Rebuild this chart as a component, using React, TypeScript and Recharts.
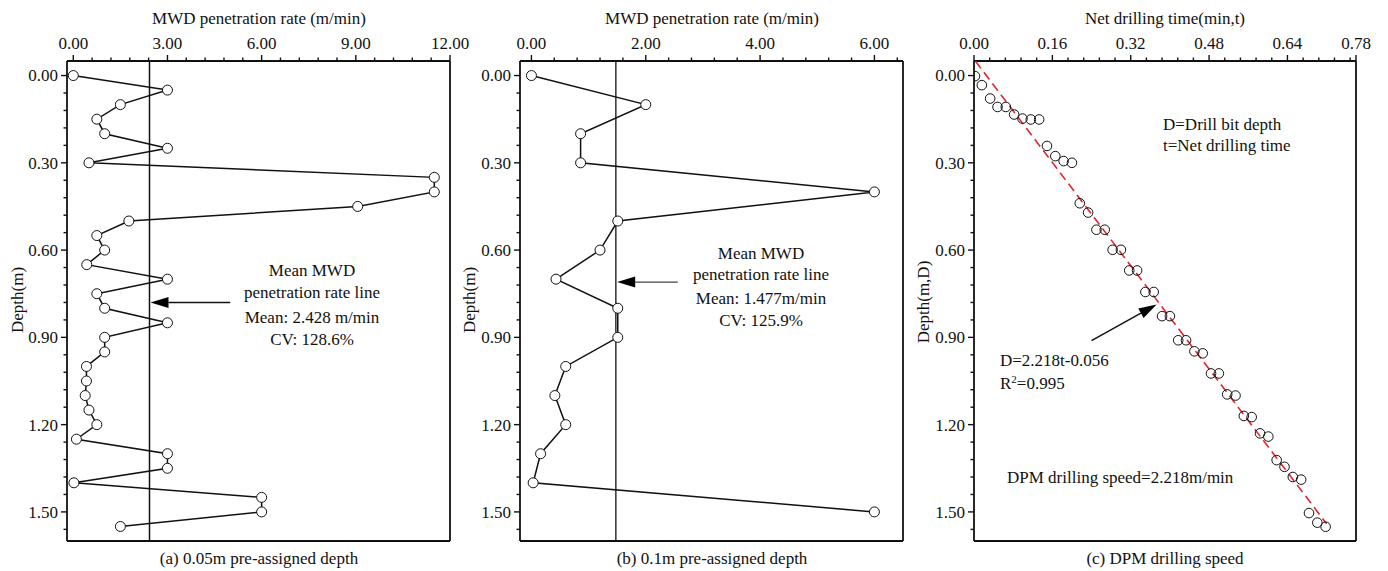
import React from 'react';
import { ScatterChart, Scatter, XAxis, YAxis, ReferenceLine } from 'recharts';

const FONT = '"Liberation Serif", "Times New Roman", serif';
const INK = '#111';
const FIT_RED = '#e3262b';

// (a) 0.05 m pre-assigned depth
const depthA = [
  0.0, 0.05, 0.1, 0.15, 0.2, 0.25, 0.3, 0.35, 0.4, 0.45, 0.5, 0.55, 0.6, 0.65, 0.7, 0.75,
  0.8, 0.85, 0.9, 0.95, 1.0, 1.05, 1.1, 1.15, 1.2, 1.25, 1.3, 1.35, 1.4, 1.45, 1.5, 1.55,
];
const rateA = [
  0, 3.0, 1.5, 0.75, 1.0, 3.0, 0.5, 11.5, 11.5, 9.06, 1.77, 0.75, 1.0, 0.43, 3.0, 0.75,
  1.0, 3.0, 1.0, 1.0, 0.42, 0.42, 0.38, 0.5, 0.75, 0.1, 3.0, 3.0, 0.02, 6.0, 6.0, 1.5,
];
const meanA = 2.428;

// (b) 0.1 m pre-assigned depth
const depthB = [0.0, 0.1, 0.2, 0.3, 0.4, 0.5, 0.6, 0.7, 0.8, 0.9, 1.0, 1.1, 1.2, 1.3, 1.4, 1.5];
const rateB = [0, 2.0, 0.86, 0.86, 6.0, 1.51, 1.2, 0.43, 1.51, 1.51, 0.6, 0.41, 0.6, 0.16, 0.03, 6.0];
const meanB = 1.477;

// (c) DPM drilling speed
const timeC = [
  0.002, 0.016, 0.033, 0.048, 0.065, 0.082, 0.099, 0.116, 0.133, 0.149, 0.166, 0.183, 0.2, 0.216, 0.233,
  0.25, 0.267, 0.283, 0.3, 0.317, 0.333, 0.35, 0.367, 0.384, 0.4, 0.417, 0.433, 0.45, 0.467, 0.484,
  0.5, 0.517, 0.534, 0.551, 0.567, 0.584, 0.601, 0.618, 0.634, 0.651, 0.668, 0.684, 0.701, 0.718,
];
const depthC = [
  0.002, 0.033, 0.079, 0.108, 0.108, 0.134, 0.148, 0.151, 0.151, 0.242, 0.277, 0.294, 0.3, 0.439, 0.471,
  0.53, 0.53, 0.599, 0.599, 0.67, 0.67, 0.744, 0.744, 0.827, 0.827, 0.91, 0.91, 0.948, 0.955, 1.024,
  1.024, 1.096, 1.1, 1.17, 1.174, 1.23, 1.241, 1.322, 1.345, 1.38, 1.389, 1.504, 1.537, 1.551,
];
const fitSlope = 2.218;
const fitIntercept = -0.056;
const fitRange = [0.003, 0.72];

// ticks
const depthTicks = [0, 0.3, 0.6, 0.9, 1.2, 1.5];
const depthDomain: [number, number] = [-0.05, 1.6];
const rateTicksA = [0, 3, 6, 9, 12];
const rateTicksB = [0, 2, 4, 6];
const timeTicksC = [0, 0.16, 0.32, 0.48, 0.64, 0.78];

const steps = (step: number, max: number) => {
  const out: number[] = [];
  for (let i = 0; i * step <= max + 1e-9; i++) out.push(+(i * step).toFixed(4));
  return out;
};
const merge = (a: number[], b: number[]) =>
  Array.from(new Set([...a, ...b].map((v) => +v.toFixed(4)))).sort((p, q) => p - q);

const isMajor = (v: number, majors: number[]) => majors.some((m) => Math.abs(m - v) < 1e-6);

const TopTick = (props: any) => {
  const { x, y, payload, majors } = props;
  const major = isMajor(payload.value, majors);
  return (
    <g>
      <line x1={x} y1={y} x2={x} y2={y - (major ? 6 : 3.5)} stroke={INK} strokeWidth={1.4} />
      {major && (
        <text x={x} y={y - 12.5} textAnchor="middle" fontFamily={FONT} fontSize={17} fill={INK}>
          {payload.value.toFixed(2)}
        </text>
      )}
    </g>
  );
};

const LeftTick = (props: any) => {
  const { x, y, payload, majors } = props;
  const major = isMajor(payload.value, majors);
  return (
    <g>
      <line x1={x} y1={y} x2={x - (major ? 6 : 3.5)} y2={y} stroke={INK} strokeWidth={1.4} />
      {major && (
        <text x={x - 9} y={y} dy="0.35em" textAnchor="end" fontFamily={FONT} fontSize={17} fill={INK}>
          {payload.value.toFixed(2)}
        </text>
      )}
    </g>
  );
};

const arrowShape = (color: string, width: number) => (p: any) => {
  const { x1, y1, x2, y2 } = p;
  const a = Math.atan2(y2 - y1, x2 - x1);
  const L = 18;
  const H = 5.5;
  const bx = x2 - L * Math.cos(a);
  const by = y2 - L * Math.sin(a);
  const px = -Math.sin(a) * H;
  const py = Math.cos(a) * H;
  return (
    <g>
      <line x1={x1} y1={y1} x2={bx} y2={by} stroke={color} strokeWidth={width} />
      <polygon points={`${x2},${y2} ${bx + px},${by + py} ${bx - px},${by - py}`} fill="#000" />
    </g>
  );
};

const openDot = (r: number, fill: string) => (p: any) => (
  <circle cx={p.cx} cy={p.cy} r={r} fill={fill} stroke={INK} strokeWidth={1} />
);
const noDot = () => <g />;

const PLOT_TOP = 61;
const PLOT_H = 480;
const Y_W = 60;
const X_H = 30;
const PAD_R = 30;

type PanelProps = {
  plotLeft: number;
  plotWidth: number;
  xDomain: [number, number];
  xTicks: number[];
  xMajors: number[];
  children: React.ReactNode;
};

const Panel = ({ plotLeft, plotWidth, xDomain, xTicks, xMajors, children }: PanelProps) => {
  const frame = { stroke: INK, strokeWidth: 1.8 };
  return (
    <div style={{ position: 'absolute', left: plotLeft - Y_W, top: 0 }}>
      <ScatterChart
        width={Y_W + plotWidth + PAD_R}
        height={PLOT_TOP + PLOT_H + 4}
        margin={{ top: PLOT_TOP - X_H, left: 0, right: PAD_R, bottom: 4 }}
      >
        <XAxis
          type="number"
          dataKey="x"
          orientation="top"
          height={X_H}
          domain={xDomain}
          allowDataOverflow
          ticks={xTicks}
          interval={0}
          tickSize={0}
          tickMargin={0}
          tick={<TopTick majors={xMajors} />}
          axisLine={frame}
        />
        <YAxis
          type="number"
          dataKey="y"
          reversed
          width={Y_W}
          domain={depthDomain}
          allowDataOverflow
          ticks={merge(depthTicks, steps(0.06, 1.56))}
          interval={0}
          tickSize={0}
          tickMargin={0}
          tick={<LeftTick majors={depthTicks} />}
          axisLine={frame}
        />
        {/* right and bottom frame */}
        <ReferenceLine x={xDomain[1]} stroke={INK} strokeWidth={1.8} />
        <ReferenceLine y={depthDomain[1]} stroke={INK} strokeWidth={1.8} />
        {children}
      </ScatterChart>
    </div>
  );
};

const Note = ({ x, y, children, align = 'center', rotate = false }: any) => (
  <div
    style={{
      position: 'absolute',
      left: x,
      top: y,
      transform: `${align === 'center' ? 'translate(-50%,-50%)' : 'translate(0,-50%)'}${rotate ? ' rotate(-90deg)' : ''}`,
      whiteSpace: 'nowrap',
      fontFamily: FONT,
      fontSize: 17,
      lineHeight: 1,
      color: INK,
    }}
  >
    {children}
  </div>
);

const App = () => {
  const dataA = depthA.map((d, i) => ({ x: rateA[i], y: d }));
  const dataB = depthB.map((d, i) => ({ x: rateB[i], y: d }));
  const dataC = depthC.map((d, i) => ({ x: timeC[i], y: d }));
  const fitC = fitRange.map((t) => ({ x: t, y: fitSlope * t + fitIntercept }));

  return (
    <div style={{ position: 'absolute', left: 0, top: 0, width: 1388, height: 571, background: '#fff' }}>
      <Panel plotLeft={67} plotWidth={383} xDomain={[-0.2, 12]} xTicks={merge(rateTicksA, steps(0.6, 12))} xMajors={rateTicksA}>
        <ReferenceLine x={meanA} stroke={INK} strokeWidth={1.5} />
        <ReferenceLine
          segment={[{ x: 5.0, y: 0.78 }, { x: 2.46, y: 0.78 }]}
          shape={arrowShape(INK, 1.5)}
        />
        <Scatter
          data={dataA}
          line={{ stroke: INK, strokeWidth: 1.5 }}
          lineType="joint"
          shape={openDot(5, '#fff')}
          isAnimationActive={false}
        />
      </Panel>

      <Panel plotLeft={520} plotWidth={383} xDomain={[-0.2, 6.5]} xTicks={merge(rateTicksB, steps(0.4, 6.4))} xMajors={rateTicksB}>
        <ReferenceLine x={meanB} stroke={INK} strokeWidth={1.3} />
        <ReferenceLine
          segment={[{ x: 2.56, y: 0.71 }, { x: 1.5, y: 0.71 }]}
          shape={arrowShape('#444', 1.1)}
        />
        <Scatter
          data={dataB}
          line={{ stroke: INK, strokeWidth: 1.5 }}
          lineType="joint"
          shape={openDot(5, '#fff')}
          isAnimationActive={false}
        />
      </Panel>

      <Panel plotLeft={974} plotWidth={382} xDomain={[0, 0.78]} xTicks={merge(timeTicksC, steps(0.032, 0.768))} xMajors={timeTicksC}>
        <Scatter
          data={fitC}
          line={{ stroke: FIT_RED, strokeWidth: 1.6, strokeDasharray: '9 5' }}
          lineType="joint"
          shape={noDot}
          isAnimationActive={false}
        />
        <ReferenceLine
          segment={[{ x: 0.24, y: 0.911 }, { x: 0.373, y: 0.787 }]}
          shape={arrowShape(INK, 1.5)}
        />
        <Scatter data={dataC} shape={openDot(4.8, 'none')} isAnimationActive={false} />
      </Panel>

      {/* titles */}
      <Note x={259} y={18}>MWD penetration rate (m/min)</Note>
      <Note x={712} y={18}>MWD penetration rate (m/min)</Note>
      <Note x={1165} y={18}>Net drilling time(min,t)</Note>

      {/* y labels */}
      <Note x={17} y={300} rotate>Depth(m)</Note>
      <Note x={469} y={300} rotate>Depth(m)</Note>
      <Note x={923} y={302} rotate>Depth(m,D)</Note>

      {/* captions */}
      <Note x={259} y={558}>(a) 0.05m pre-assigned depth</Note>
      <Note x={712} y={558}>(b) 0.1m pre-assigned depth</Note>
      <Note x={1165} y={558}>(c) DPM drilling speed</Note>

      {/* panel a notes */}
      <Note x={312} y={270}>Mean MWD</Note>
      <Note x={312} y={292}>penetration rate line</Note>
      <Note x={312} y={317}>Mean: 2.428 m/min</Note>
      <Note x={312} y={339}>CV: 128.6%</Note>

      {/* panel b notes */}
      <Note x={761} y={253}>Mean MWD</Note>
      <Note x={761} y={274}>penetration rate line</Note>
      <Note x={761} y={298}>Mean: 1.477m/min</Note>
      <Note x={761} y={320}>CV: 125.9%</Note>

      {/* panel c notes */}
      <Note x={1163} y={124} align="left">D=Drill bit depth</Note>
      <Note x={1163} y={145} align="left">t=Net drilling time</Note>
      <Note x={1000} y={360} align="left">D=2.218t-0.056</Note>
      <Note x={1000} y={383} align="left">
        R<sup style={{ fontSize: 11 }}>2</sup>=0.995
      </Note>
      <Note x={1007} y={477} align="left">DPM drilling speed=2.218m/min</Note>
    </div>
  );
};

export default App;
